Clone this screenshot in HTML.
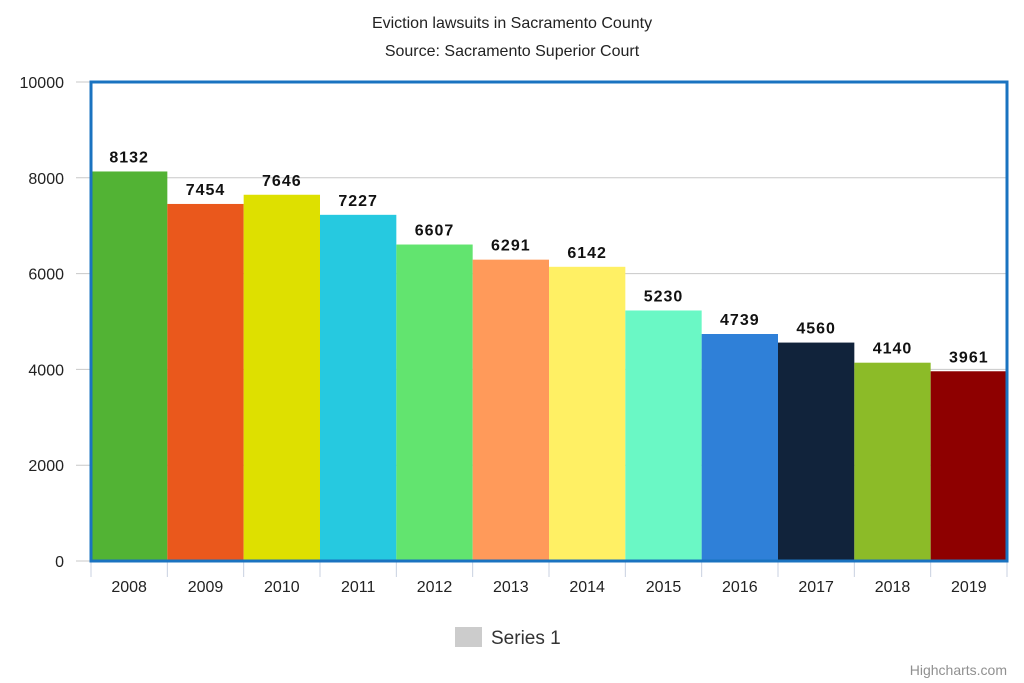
<!DOCTYPE html>
<html><head><meta charset="utf-8"><style>
html,body{margin:0;padding:0;background:#fff;}
svg{display:block;font-family:"Liberation Sans",Arial,sans-serif;}
</style></head><body>
<svg id="chart" width="1024" height="683" viewBox="0 0 1024 683">
<text x="512" y="28" text-anchor="middle" font-size="16" fill="#222">Eviction lawsuits in Sacramento County</text>
<text x="512" y="56" text-anchor="middle" font-size="16" fill="#222">Source: Sacramento Superior Court</text>
<g id="grid"></g><g id="bars"></g><g id="labels"></g><g id="axes"></g>
<rect x="91" y="82" width="916" height="479" fill="none" stroke="#1a73c0" stroke-width="3"/>
<g>
<rect x="455" y="627" width="27" height="20" fill="#cccccc"/>
<text x="491" y="644" font-size="19" fill="#333">Series 1</text>
</g>
<text x="1007" y="675" text-anchor="end" font-size="14" fill="#909090">Highcharts.com</text>
</svg>
<script>
const categories=["2008","2009","2010","2011","2012","2013","2014","2015","2016","2017","2018","2019"];
const values=[8132,7454,7646,7227,6607,6291,6142,5230,4739,4560,4140,3961];
const colors=["#52b334","#ea581c","#dee000","#26c9e0","#62e46f","#ff9a5a","#fff064","#6af8c5","#2f80d8","#11233b","#8cbb28","#8e0000"];
const yTicks=[0,2000,4000,6000,8000,10000];
const NS="http://www.w3.org/2000/svg";
const x0=91,x1=1007,y0=561,yTop=82,ymax=10000;
const bw=(x1-x0)/categories.length;
const ys=v=>y0-(v/ymax)*(y0-yTop);
const xs=i=>x0+i*bw;
function mk(t,a,p){const e=document.createElementNS(NS,t);for(const k in a)e.setAttribute(k,a[k]);p.appendChild(e);return e;}
const grid=document.getElementById('grid'),bars=document.getElementById('bars'),labels=document.getElementById('labels'),axes=document.getElementById('axes');
yTicks.forEach(v=>{
  const l=mk('line',{x1:x0-15,x2:x1,y1:ys(v),y2:ys(v),stroke:'#c8c8c8','stroke-width':1},grid);
  
  
  const t=mk('text',{x:64,y:ys(v)+6,'text-anchor':'end','font-size':16,fill:'#222'},axes);
  t.textContent=v;
  
  
});
categories.forEach((c,i)=>{
  const r=mk('rect',{x:xs(i),y:ys(values[i]),width:bw,height:y0-ys(values[i]),fill:colors[i]},bars);
  
  
  const t=mk('text',{x:xs(i)+bw/2,y:ys(values[i])-9,'text-anchor':'middle','font-size':16,'font-weight':'bold',fill:'#111','letter-spacing':'1'},labels);
  t.textContent=values[i];
  
  
  const tk=mk('line',{x1:xs(i),x2:xs(i),y1:y0,y2:y0+16,stroke:'#c8d0e0','stroke-width':1},axes);
  
  
  const xl=mk('text',{x:xs(i)+bw/2,y:592,'text-anchor':'middle','font-size':16,fill:'#222'},axes);
  xl.textContent=c;
  
  
});
const lt=mk('line',{x1:x1,x2:x1,y1:y0,y2:y0+16,stroke:'#c8d0e0','stroke-width':1},axes);


</script>
</body></html>
